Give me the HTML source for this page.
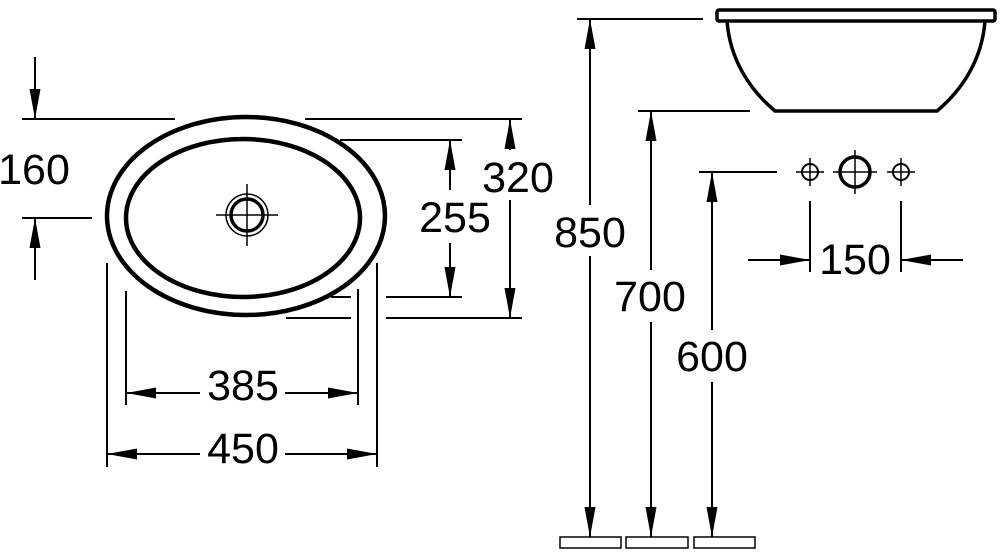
<!DOCTYPE html>
<html><head><style>
html,body{margin:0;padding:0;background:#fff;}
svg{display:block;}
text{font-family:"Liberation Sans",sans-serif;font-size:43px;fill:#000;text-anchor:middle;dominant-baseline:central;}
</style></head><body>
<svg width="1000" height="557" viewBox="0 0 1000 557" xmlns="http://www.w3.org/2000/svg">
<defs>
<marker id="b" viewBox="0 0 30 12" refX="30" refY="6" markerWidth="30" markerHeight="12" markerUnits="userSpaceOnUse" orient="auto"><path d="M0,0.5 L30,6 L0,11.5 z" fill="#000"/></marker>
</defs>
<g stroke="#000" fill="none" stroke-width="2">
<ellipse cx="246" cy="216" rx="139" ry="99" stroke-width="4.5"/>
<ellipse cx="243" cy="218" rx="117" ry="79" stroke-width="4.5"/>
<circle cx="247" cy="215" r="21" stroke-width="1.5"/>
<circle cx="247" cy="215" r="16" stroke-width="3.5"/>
<path d="M216,215H278M247,184V246" stroke-width="1.5"/>
<path d="M22,119H175M22,218H92"/>
<path d="M35,57V119" marker-end="url(#b)"/>
<path d="M35,280V218" marker-end="url(#b)"/>
<path d="M305,119H522M386,318H522M286,318H351"/>
<path d="M510,150V119" marker-end="url(#b)"/>
<path d="M510,200V318" marker-end="url(#b)"/>
<path d="M340,140H462M386,297H462M331,297H351"/>
<path d="M450,190V140" marker-end="url(#b)"/>
<path d="M450,243V297" marker-end="url(#b)"/>
<path d="M107,263V467M377,263V467M126,291V405M358,289V405"/>
<path d="M200,393H126" marker-end="url(#b)"/>
<path d="M285,393H358" marker-end="url(#b)"/>
<path d="M200,454H107" marker-end="url(#b)"/>
<path d="M285,454H377" marker-end="url(#b)"/>
<rect x="717" y="10" width="278" height="11" rx="2" stroke-width="3.5"/>
<path d="M727,21 C730,60 750,90 775,111 H937 C962,90 982,60 985,21" stroke-width="3.5"/>
<path d="M577,19H703M638,111H750M699,172H777"/>
<path d="M590,205V19" marker-end="url(#b)"/>
<path d="M590,256V537" marker-end="url(#b)"/>
<path d="M651,270V111" marker-end="url(#b)"/>
<path d="M651,322V537" marker-end="url(#b)"/>
<path d="M712,330V172" marker-end="url(#b)"/>
<path d="M712,382V537" marker-end="url(#b)"/>
<rect x="560" y="537" width="61" height="11" stroke-width="1.5"/>
<rect x="626" y="537" width="62" height="11" stroke-width="1.5"/>
<rect x="694" y="537" width="61" height="11" stroke-width="1.5"/>
<circle cx="810" cy="172" r="8"/>
<path d="M796,172H824M810,158V186" stroke-width="1.5"/>
<circle cx="855" cy="172" r="15" stroke-width="3.5"/>
<path d="M833,172H877M855,150V194" stroke-width="1.5"/>
<circle cx="901" cy="172" r="8"/>
<path d="M887,172H915M901,158V186" stroke-width="1.5"/>
<path d="M810,201V272M901,201V272"/>
<path d="M748,260H810" marker-end="url(#b)"/>
<path d="M963,260H901" marker-end="url(#b)"/>
</g>
<text x="34" y="170">160</text>
<text x="518" y="178">320</text>
<text x="455" y="218">255</text>
<text x="243" y="386">385</text>
<text x="243" y="449">450</text>
<text x="590" y="233">850</text>
<text x="650" y="297">700</text>
<text x="712" y="357">600</text>
<text x="855" y="260">150</text>
</svg>
</body></html>
